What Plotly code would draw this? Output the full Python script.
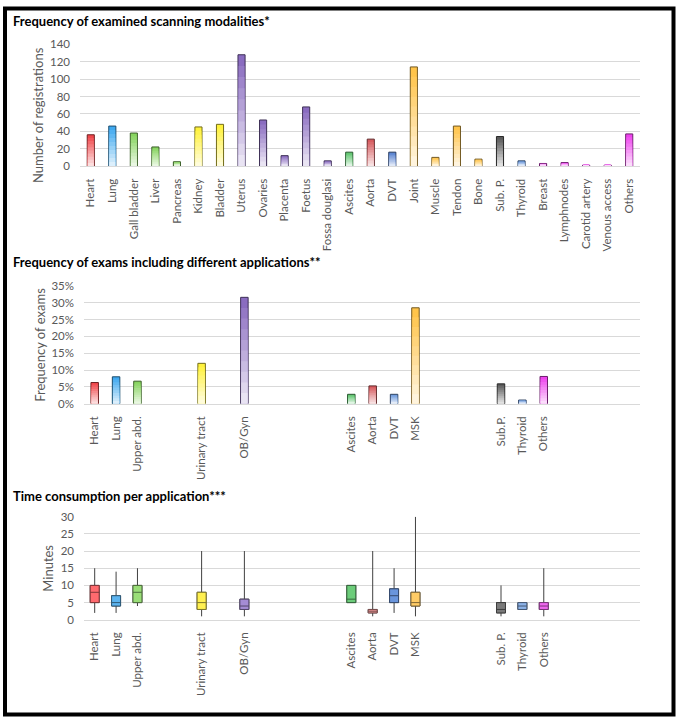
import plotly.graph_objects as go

W, H = 676, 723

# ---------------- data ----------------
modalities = ["Heart", "Lung", "Gall bladder", "Liver", "Pancreas", "Kidney", "Bladder",
              "Uterus", "Ovaries", "Placenta", "Foetus", "Fossa douglasi", "Ascites", "Aorta",
              "DVT", "Joint", "Muscle", "Tendon", "Bone", "Sub. P.", "Thyroid", "Breast",
              "Lymphnodes", "Carotid artery", "Venous access", "Others"]
registrations = [36, 46, 38, 22, 5, 45, 48, 128, 53, 12, 68, 6, 16, 31, 16, 114, 10, 46, 8,
                 34, 6, 3, 4, 1, 1, 37]
modality_colors = ["#F0484C", "#3FA9F0", "#86D45E", "#86D45E", "#86D45E", "#FFF23C", "#FFF23C",
                   "#8A6CC0", "#8A6CC0", "#8A6CC0", "#8A6CC0", "#8A6CC0", "#5CC46C", "#D65A5E",
                   "#5580D0", "#FFC44A", "#FFC44A", "#FFC44A", "#FFC44A", "#5A5A5A", "#6A98DC",
                   "#EE44EE", "#EE44EE", "#EE44EE", "#EE44EE", "#EE44EE"]

# application slots ("" = empty slot on the category axis)
app_slots = ["Heart", "Lung", "Upper abd.", "", "", "Urinary tract", "", "OB/Gyn", "", "", "", "",
             "Ascites", "Aorta", "DVT", "MSK", "", "", "", "Sub.P.", "Thyroid", "Others",
             "", "", "", ""]
app_slots_time = ["Heart", "Lung", "Upper abd.", "", "", "Urinary tract", "", "OB/Gyn", "", "", "", "",
                  "Ascites", "Aorta", "DVT", "MSK", "", "", "", "Sub. P.", "Thyroid", "Others",
                  "", "", "", ""]
exam_freq = [0.063, 0.080, 0.067, None, None, 0.120, None, 0.316, None, None, None, None,
             0.028, 0.053, 0.028, 0.285, None, None, None, 0.059, 0.011, 0.081,
             None, None, None, None]
app_colors = ["#F0484C", "#3FA9F0", "#86D45E", None, None, "#FFF23C", None, "#8A6CC0",
              None, None, None, None, "#5CC46C", "#D65A5E", "#6A98DC", "#FFC44A",
              None, None, None, "#5A5A5A", "#6A98DC", "#EE44EE", None, None, None, None]

# time consumption (minutes): lower whisker, q1, median, q3, upper whisker
t_low = [2, 2, 4, None, None, 1, None, 1, None, None, None, None, 5, 1, 2, 1, None, None, None, 1, 3, 1, None, None, None, None]
t_q1 = [5, 4, 5, None, None, 3, None, 3, None, None, None, None, 5, 2, 5, 4, None, None, None, 2, 3, 3, None, None, None, None]
t_med = [8, 5, 8, None, None, 5, None, 4, None, None, None, None, 6, 2.5, 7, 5, None, None, None, 3, 4, 4, None, None, None, None]
t_q3 = [10, 7, 10, None, None, 8, None, 6, None, None, None, None, 10, 3, 9, 8, None, None, None, 5, 5, 5, None, None, None, None]
t_high = [15, 14, 15, None, None, 20, None, 20, None, None, None, None, 10, 20, 15, 30, None, None, None, 10, 5, 15, None, None, None, None]
time_colors = ["#FF6A6E", "#5CB4F0", "#9ADE78", None, None, "#FFF050", None, "#A48CD4",
               None, None, None, None, "#6CCC7A", "#F29A9A", "#6A95DC", "#FFCC66",
               None, None, None, "#7A7A7A", "#8DB3E8", "#F068F0", None, None, None, None]

titles = ["Frequency of examined scanning modalities*",
          "Frequency of exams including different applications**",
          "Time consumption per application***"]
y_titles = ["Number of registrations", "Frequency of exams", "Minutes"]

# ---------------- helpers ----------------
def px_x(p):
    return p / W

def px_y(p):
    return 1 - p / H

def hex_to_rgb(h):
    h = h.lstrip("#")
    return tuple(int(h[i:i + 2], 16) for i in (0, 2, 4))

def blend(h, t, target=(255, 255, 255)):
    r, g, b = hex_to_rgb(h)
    return "rgb(%d,%d,%d)" % (r + (target[0] - r) * t, g + (target[1] - g) * t, b + (target[2] - b) * t)

FONT = "Lato, 'Open Sans', sans-serif"
GRID = "#d9d9d9"
TICKC = "#595959"

fig = go.Figure()

K = 10  # gradient steps


def add_gradient_bars(xs, vals, cols, xa, ya, width):
    for k in range(K):
        frac = (K - k) / K
        t = 0.82 * k / (K - 1)
        fig.add_trace(go.Bar(
            x=xs, y=[v * frac for v in vals],
            marker=dict(color=[blend(c, t) for c in cols],
                        line=dict(color=[blend(c, 0.55, (0, 0, 0)) for c in cols] if k == 0 else "rgba(0,0,0,0)",
                                  width=1 if k == 0 else 0)),
            width=width if k == 0 else width - 0.06,
            xaxis=xa, yaxis=ya, showlegend=False, hoverinfo="skip"))


# chart 1
x1 = list(range(len(modalities)))
add_gradient_bars(x1, registrations, modality_colors, "x", "y", 0.33)

# chart 2
idx2 = [i for i, v in enumerate(exam_freq) if v is not None]
add_gradient_bars(idx2, [exam_freq[i] for i in idx2], [app_colors[i] for i in idx2], "x2", "y2", 0.35)

# chart 3: whiskers (gray) then coloured box on top
for i, lab in enumerate(app_slots_time):
    if t_med[i] is None:
        continue
    fig.add_trace(go.Box(
        x=[i], q1=[t_q1[i]], median=[t_med[i]], q3=[t_q3[i]],
        lowerfence=[t_low[i]], upperfence=[t_high[i]],
        fillcolor=time_colors[i], line=dict(color="#404040", width=1),
        width=0.42, whiskerwidth=0, boxpoints=False,
        xaxis="x3", yaxis="y3", showlegend=False, hoverinfo="skip"))
    fig.add_trace(go.Box(
        x=[i], q1=[t_q1[i]], median=[t_med[i]], q3=[t_q3[i]],
        lowerfence=[t_q1[i]], upperfence=[t_q3[i]],
        fillcolor=time_colors[i], line=dict(color=blend(time_colors[i], 0.5, (0, 0, 0)), width=1),
        width=0.42, whiskerwidth=0, boxpoints=False,
        xaxis="x3", yaxis="y3", showlegend=False, hoverinfo="skip"))

# axes
plots = [
    dict(x=(80, 640), y=(38, 162)),
    dict(x=(84, 640), y=(284, 404)),
    dict(x=(84, 640), y=(519, 624)),
]
xlabels = [
    (x1, modalities),
    ([i for i, l in enumerate(app_slots) if l], [l for l in app_slots if l]),
    ([i for i, l in enumerate(app_slots_time) if l], [l for l in app_slots_time if l]),
]
yconf = [
    dict(range=[0, 140], dtick=20),
    dict(range=[0, 0.35], dtick=0.05, tickformat=".0%"),
    dict(range=[0, 30], dtick=5),
]
nslots = [len(modalities), len(app_slots), len(app_slots_time)]

layout = dict(
    width=W, height=H, margin=dict(l=0, r=0, t=0, b=0),
    paper_bgcolor="white", plot_bgcolor="white",
    barmode="overlay", boxmode="overlay", showlegend=False,
    font=dict(family=FONT, size=12, color=TICKC),
)
for n in range(3):
    s = "" if n == 0 else str(n + 1)
    p = plots[n]
    tv, tt = xlabels[n]
    layout["xaxis" + s] = dict(
        domain=[px_x(p["x"][0]), px_x(p["x"][1])],
        anchor="y" + s, range=[-0.5, nslots[n] - 0.5],
        tickmode="array", tickvals=tv, ticktext=tt, tickangle=-90,
        showgrid=False, zeroline=False, showline=True, linecolor=GRID, linewidth=1,
        ticks="", ticklabelstandoff=7,
        tickfont=dict(family=FONT, size=11.5, color=TICKC), fixedrange=True)
    layout["yaxis" + s] = dict(
        domain=[px_y(p["y"][1]), px_y(p["y"][0])],
        anchor="x" + s, showgrid=True, gridcolor=GRID, gridwidth=1,
        zeroline=False, showline=False, ticks="", ticklabelstandoff=9,
        tickfont=dict(family=FONT, size=11.5, color=TICKC), fixedrange=True,
        **yconf[n])

fig.update_layout(**layout)

# titles
title_y = [14, 260, 498]
for n in range(3):
    fig.add_annotation(text="<b>%s</b>" % titles[n], xref="paper", yref="paper",
                       x=px_x(11), y=px_y(title_y[n]), xanchor="left", yanchor="middle",
                       showarrow=False, font=dict(family=FONT, size=13, color="black"))

# axis titles
yt_pos = [(38, 110), (40, 344), (48, 572)]
for n in range(3):
    fig.add_annotation(text=y_titles[n], xref="paper", yref="paper",
                       x=px_x(yt_pos[n][0]), y=px_y(yt_pos[n][1]), xanchor="center", yanchor="middle",
                       textangle=-90, showarrow=False, font=dict(family=FONT, size=13, color=TICKC))

# outer frame
fig.add_shape(type="rect", xref="paper", yref="paper",
              x0=px_x(5), x1=px_x(673.5), y0=px_y(720.5), y1=px_y(1.5),
              line=dict(color="black", width=4), fillcolor="rgba(0,0,0,0)", layer="above")

POST = """
document.documentElement.style.margin='0';
document.documentElement.style.padding='0';
document.body.style.margin='0';
document.body.style.padding='0';
document.body.style.overflow='hidden';
var gd = document.querySelector('.plotly-graph-div');
if (gd) { gd.style.position='absolute'; gd.style.top='0px'; gd.style.left='0px'; }
"""

fig.write_html("out.html", config={"displayModeBar": False}, post_script=POST)
